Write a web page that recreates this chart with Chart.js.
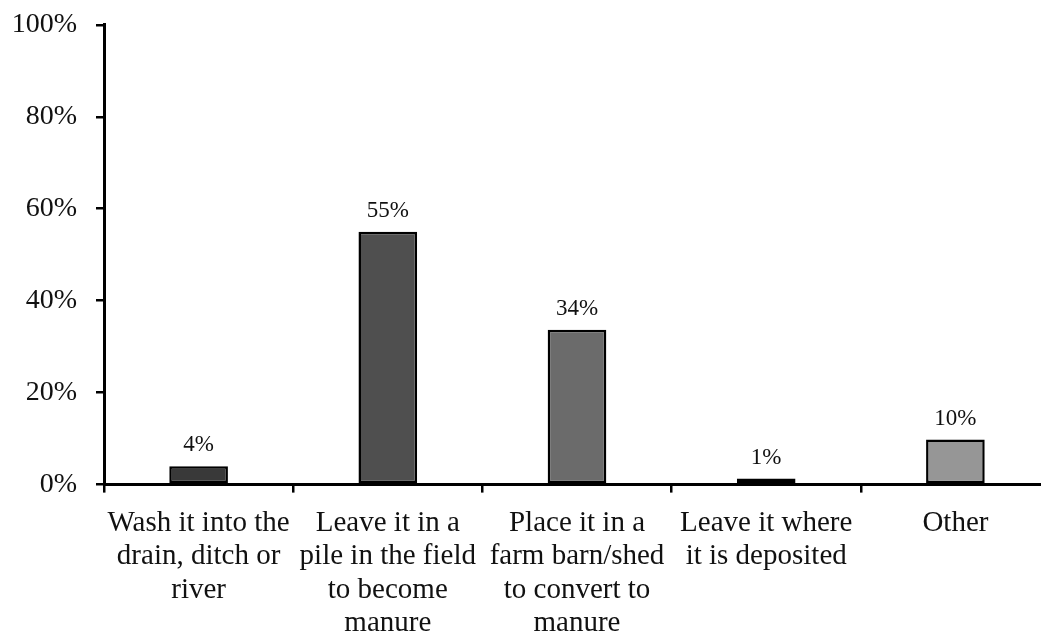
<!DOCTYPE html>
<html>
<head>
<meta charset="utf-8">
<script src="https://cdn.jsdelivr.net/npm/chart.js@4/dist/chart.umd.min.js"></script>
<style>
  html, body { margin: 0; padding: 0; background: #fff; overflow: hidden; }
  #wrap { width: 1050px; height: 665px; position: relative; margin-top: -11px; }
</style>
</head>
<body>
<div id="wrap"><canvas id="chart"></canvas></div>
<script>
const categories = [
  ["Wash it into the", "drain, ditch or", "river"],
  ["Leave it in a", "pile in the field", "to become", "manure"],
  ["Place it in a", "farm barn/shed", "to convert to", "manure"],
  ["Leave it where", "it is deposited"],
  ["Other"],
];
const values = [4, 55, 33.7, 1.3, 9.8];
const valueLabels = ["4%", "55%", "34%", "1%", "10%"];
const barColors = ["#393939", "#4f4f4f", "#6b6b6b", "#7c7c7c", "#969696"];
const yTicks = [0, 20, 40, 60, 80, 100];

const serif = "'Liberation Serif', 'Times New Roman', serif";

// --- value labels above bars ---
const valueLabelPlugin = {
  id: "valueLabels",
  afterDatasetsDraw(chart) {
    const ctx = chart.ctx;
    const meta = chart.getDatasetMeta(0);
    ctx.save();
    ctx.font = `23px ${serif}`;
    ctx.fillStyle = "#111";
    ctx.textAlign = "center";
    ctx.textBaseline = "alphabetic";
    meta.data.forEach((bar, i) => {
      ctx.fillText(valueLabels[i], bar.x, bar.y - 15);
    });
    ctx.restore();
  },
};

new Chart(document.getElementById("chart"), {
  type: "bar",
  data: {
    labels: categories,
    datasets: [
      {
        data: values,
        backgroundColor: barColors,
        borderColor: "#000",
        borderWidth: 2.5,
        borderSkipped: false,
        barPercentage: 0.31,
        categoryPercentage: 1,
      },
    ],
  },
  options: {
    responsive: true,
    maintainAspectRatio: false,
    animation: false,
    layout: { padding: { top: 0, left: 10, right: 0, bottom: 0 } },
    plugins: { legend: { display: false }, tooltip: { enabled: false } },
    scales: {
      x: {
        grid: {
          offset: true,
          drawOnChartArea: false,
          drawTicks: true,
          tickLength: 8,
          color: "#000",
          lineWidth: 2.5,
        },
        border: { color: "#000", width: 3 },
        ticks: {
          color: "#111",
          padding: 14,
          maxRotation: 0,
          autoSkip: false,
          font: { family: serif, size: 29, lineHeight: 1.15 },
        },
      },
      y: {
        min: 0,
        max: 100,
        afterFit: (axis) => {
          axis.width = 94;
        },
        afterBuildTicks: (axis) => {
          axis.ticks = yTicks.map((v) => ({ value: v }));
        },
        grid: {
          drawOnChartArea: false,
          drawTicks: true,
          tickLength: 8,
          color: "#000",
          lineWidth: 2.5,
        },
        border: { color: "#000", width: 3 },
        ticks: {
          color: "#111",
          padding: 19,
          callback: (v) => v + "%",
          font: { family: serif, size: 28 },
        },
      },
    },
  },
  plugins: [valueLabelPlugin],
});
</script>
</body>
</html>
